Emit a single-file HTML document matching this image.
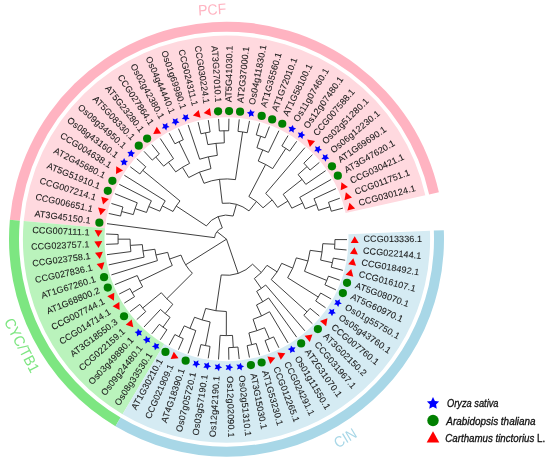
<!DOCTYPE html>
<html><head><meta charset="utf-8"><title>Phylogenetic tree</title>
<style>html,body{margin:0;padding:0;background:#fff}body{width:550px;height:463px;overflow:hidden;font-family:"Liberation Sans",sans-serif}svg{display:block;will-change:transform}text{font-family:"Liberation Sans",sans-serif}</style></head><body>
<svg width="550" height="463" viewBox="0 0 550 463">
<rect width="550" height="463" fill="#fff"/>
<path d="M425.32 195.34A203.6 203.6 0 0 0 23.71 221.1L104.98 228.35A122 122 0 0 1 345.64 212.92Z" fill="#FFD9DF"/>
<path d="M438.89 192.35A217.5 217.5 0 0 0 9.86 219.87L19.82 220.75A207.5 207.5 0 0 1 429.13 194.5Z" fill="#FFB3C1"/>
<text x="0" y="0" transform="translate(212.15 9.25) rotate(-3.57) scale(0.93 1)" text-anchor="middle" dy="0.36em" font-size="15" fill="#FFB3C1">PCF</text>
<path d="M23.71 221.1A203.6 203.6 0 0 0 122.55 414.27L164.21 344.1A122 122 0 0 1 104.98 228.35Z" fill="#BAF3BC"/>
<path d="M9.86 219.87A217.5 217.5 0 0 0 115.46 426.22L120.56 417.62A207.5 207.5 0 0 1 19.82 220.75Z" fill="#7DE681"/>
<text x="0" y="0" transform="translate(22.04 345.18) rotate(62.6) scale(0.93 1)" text-anchor="middle" dy="0.36em" font-size="15" fill="#7DE681">CYC/TB1</text>
<path d="M122.55 414.27A203.6 203.6 0 0 0 429.93 230.78L348.4 234.15A122 122 0 0 1 164.21 344.1Z" fill="#D5EBF3"/>
<path d="M115.46 426.22A217.5 217.5 0 0 0 443.81 230.21L433.82 230.62A207.5 207.5 0 0 1 120.56 417.62Z" fill="#A8D7E7"/>
<text x="0" y="0" transform="translate(345.06 437.81) rotate(-30.84) scale(0.91 1)" text-anchor="middle" dy="0.36em" font-size="15" fill="#A8D7E7">CIN</text>
<path d="M342.92 208.11L331.28 211.22M339.82 198.23L328.49 202.33M331.28 211.22A108.45 108.45 0 0 0 328.49 202.33M329.98 206.75L318.48 210.35M335.88 188.65L314.01 198.76M318.48 210.35A96.4 96.4 0 0 0 314.01 198.76M316.43 204.48L305.19 208.82M331.14 179.44L299.75 197.37M305.19 208.82A84.35 84.35 0 0 0 299.75 197.37M319.37 162.42L310.08 170.1M312.43 154.73L303.84 163.18M310.08 170.1A108.45 108.45 0 0 0 303.84 163.18M325.62 170.68L305.8 184.38M307.04 166.57L298.09 174.64M305.8 184.38A96.4 96.4 0 0 0 298.09 174.64M302.68 202.99L291.8 208.17M302.1 179.39L283.2 194.34M291.8 208.17A72.3 72.3 0 0 0 283.2 194.34M287.89 201.01L277.66 207.38M304.86 147.66L265.68 193.43M277.66 207.38A60.25 60.25 0 0 0 265.68 193.43M296.71 141.27L289.69 151.06M288.04 135.6L281.89 145.96M289.69 151.06A108.45 108.45 0 0 0 281.89 145.96M269.41 126.6L265.12 137.86M259.58 123.33L256.27 134.92M265.12 137.86A108.45 108.45 0 0 0 256.27 134.92M278.92 130.7L268.44 152.4M260.73 136.29L256.92 147.73M268.44 152.4A96.4 96.4 0 0 0 256.92 147.73M285.84 148.43L272.66 168.6M262.75 149.88L258.22 161.04M272.66 168.6A84.35 84.35 0 0 0 258.22 161.04M272.21 199.94L263.06 207.79M265.62 164.47L248.86 196.5M263.06 207.79A48.2 48.2 0 0 0 248.86 196.5M249.51 120.92L247.21 132.74M239.26 119.38L237.99 131.36M247.21 132.74A108.45 108.45 0 0 0 237.99 131.36M228.93 118.72L228.68 130.77M218.57 118.96L219.36 130.98M228.68 130.77A108.45 108.45 0 0 0 219.36 130.98M208.28 120.09L210.1 132M198.11 122.09L200.95 133.8M210.1 132A108.45 108.45 0 0 0 200.95 133.8M224.02 130.78L224.3 142.83M205.51 132.8L207.84 144.62M224.3 142.83A96.4 96.4 0 0 0 207.84 144.62M216.03 143.37L217.34 155.35M188.16 124.96L199.66 159.23M217.34 155.35A84.35 84.35 0 0 0 199.66 159.23M178.49 128.68L183.29 139.73M169.18 133.21L174.91 143.81M183.29 139.73A108.45 108.45 0 0 0 174.91 143.81M151.89 144.58L159.35 154.04M144.04 151.34L152.28 160.12M159.35 154.04A108.45 108.45 0 0 0 152.28 160.12M160.29 138.52L173.53 158.66M155.75 157.01L163.61 166.14M173.53 158.66A96.4 96.4 0 0 0 163.61 166.14M179.06 141.68L189.6 163.35M168.45 162.24L175.71 171.86M189.6 163.35A84.35 84.35 0 0 0 175.71 171.86M208.4 156.82L210.98 168.58M182.45 167.27L188.74 177.54M210.98 168.58A72.3 72.3 0 0 0 188.74 177.54M242.61 131.95L235.45 179.62M199.49 172.14L203.99 183.31M235.45 179.62A60.25 60.25 0 0 0 203.99 183.31M256.5 201.47L249 210.9M219.47 179.36L222.28 203.3M249 210.9A36.15 36.15 0 0 0 222.28 203.3M136.8 158.74L145.77 166.79M130.22 166.74L139.85 173.99M145.77 166.79A108.45 108.45 0 0 0 139.85 173.99M111.43 203.45L122.93 207.03M108.78 213.46L120.55 216.04M122.93 207.03A108.45 108.45 0 0 0 120.55 216.04M114.92 193.7L137.24 202.8M121.65 211.51L133.3 214.58M137.24 202.8A96.4 96.4 0 0 0 133.3 214.58M119.24 184.29L151.42 200.76M135.08 208.63L146.5 212.45M151.42 200.76A84.35 84.35 0 0 0 146.5 212.45M124.35 175.28L165.21 200.85M148.74 206.51L159.85 211.18M165.21 200.85A72.3 72.3 0 0 0 159.85 211.18M142.73 170.32L179.96 200.94M162.32 205.91L173.02 211.46M179.96 200.94A60.25 60.25 0 0 0 173.02 211.46M236.4 204.43L233.1 216.02M176.21 206.01L206.39 225.93M233.1 216.02A24.1 24.1 0 0 0 206.39 225.93M218.12 216.6L222.31 227.9M107.01 223.67L214.55 237.65M222.31 227.9A12.05 12.05 0 0 0 214.55 237.65M106.11 233.99L118.15 234.51M106.11 244.35L118.15 243.83M118.15 234.51A108.45 108.45 0 0 0 118.15 243.83M118.05 239.17L130.1 239.17M107 254.67L130.9 251.57M130.1 239.17A96.4 96.4 0 0 0 130.9 251.57M130.3 245.39L142.32 244.61M108.77 264.87L144.09 257.17M142.32 244.61A84.35 84.35 0 0 0 144.09 257.17M142.97 250.92L154.9 249.25M111.41 274.89L157.44 260.61M154.9 249.25A72.3 72.3 0 0 0 157.44 260.61M119.21 294.05L129.94 288.57M124.32 303.07L134.54 296.68M129.94 288.57A108.45 108.45 0 0 0 134.54 296.68M114.9 284.64L137.22 275.55M132.15 292.67L142.63 286.73M137.22 275.55A96.4 96.4 0 0 0 142.63 286.73M155.94 254.98L167.7 252.35M139.74 281.23L172.28 265.47M167.7 252.35A60.25 60.25 0 0 0 172.28 265.47M130.18 311.61L139.81 304.36M136.75 319.61L145.73 311.57M139.81 304.36A108.45 108.45 0 0 0 145.73 311.57M151.84 333.78L159.3 324.32M160.23 339.84L166.86 329.78M159.3 324.32A108.45 108.45 0 0 0 166.86 329.78M143.99 327.02L160.49 309.46M163.02 327.13L170.08 317.36M160.49 309.46A96.4 96.4 0 0 0 170.08 317.36M142.69 308.03L161.32 292.73M165.16 313.56L172.82 304.27M161.32 292.73A84.35 84.35 0 0 0 172.82 304.27M169.61 259.04L180.99 255.07M166.79 298.78L192.38 273.25M180.99 255.07A48.2 48.2 0 0 0 192.38 273.25M169.12 345.16L174.86 334.57M178.43 349.7L183.24 338.65M174.86 334.57A108.45 108.45 0 0 0 183.24 338.65M179.01 336.7L184.28 325.86M188.1 353.42L195.78 330.57M184.28 325.86A96.4 96.4 0 0 0 195.78 330.57M198.05 356.29L200.9 344.58M208.21 358.3L210.04 346.39M200.9 344.58A108.45 108.45 0 0 0 210.04 346.39M189.96 328.4L194.52 317.25M205.45 345.59L210.13 321.95M194.52 317.25A84.35 84.35 0 0 0 210.13 321.95M228.86 359.68L228.63 347.63M239.2 359.03L237.93 347.05M228.63 347.63A108.45 108.45 0 0 0 237.93 347.05M218.51 359.43L220.11 335.39M233.28 347.44L232.53 335.41M220.11 335.39A96.4 96.4 0 0 0 232.53 335.41M202.21 319.98L205.68 308.44M226.32 335.6L226.36 311.5M205.68 308.44A72.3 72.3 0 0 0 226.36 311.5M249.44 357.5L247.15 345.67M259.52 355.09L256.21 343.5M247.15 345.67A108.45 108.45 0 0 0 256.21 343.5M269.35 351.83L265.06 340.56M278.86 347.73L273.62 336.88M265.06 340.56A108.45 108.45 0 0 0 273.62 336.88M251.7 344.68L248.9 332.96M269.38 338.81L264.62 327.74M248.9 332.96A96.4 96.4 0 0 0 264.62 327.74M256.87 330.69L253.08 319.25M287.99 342.83L269.54 311.74M253.08 319.25A84.35 84.35 0 0 0 269.54 311.74M261.51 315.94L256.51 304.98M296.66 337.17L268.6 297.98M256.51 304.98A72.3 72.3 0 0 0 268.6 297.98M262.72 301.77L256.68 291.34M304.81 330.78L265.66 284.99M256.68 291.34A60.25 60.25 0 0 0 265.66 284.99M312.39 323.72L303.8 315.27M319.33 316.03L310.05 308.35M303.8 315.27A108.45 108.45 0 0 0 310.05 308.35M325.58 307.78L315.68 300.92M331.11 299.01L320.65 293.03M315.68 300.92A108.45 108.45 0 0 0 320.65 293.03M335.86 289.81L324.92 284.75M339.8 280.23L328.47 276.13M324.92 284.75A108.45 108.45 0 0 0 328.47 276.13M342.9 270.35L331.26 267.23M345.15 260.24L333.28 258.13M331.26 267.23A108.45 108.45 0 0 0 333.28 258.13M346.52 249.97L334.52 248.89M347 239.62L334.95 239.58M334.52 248.89A108.45 108.45 0 0 0 334.95 239.58M332.37 262.71L320.61 260.09M334.83 244.24L322.8 243.68M320.61 260.09A96.4 96.4 0 0 0 322.8 243.68M326.79 280.48L304.5 271.3M322.06 251.94L310.11 250.34M304.5 271.3A84.35 84.35 0 0 0 310.11 250.34M318.25 297.03L287.66 277.75M307.98 261L296.34 257.89M287.66 277.75A72.3 72.3 0 0 0 296.34 257.89M307 311.87L271.22 279.57M292.75 268.15L281.71 263.32M271.22 279.57A60.25 60.25 0 0 0 281.71 263.32M261.32 288.37L254.35 278.54M277.12 271.87L267 265.34M254.35 278.54A48.2 48.2 0 0 0 267 265.34M215.91 310.72L221.21 274.96M261.31 272.54L252.6 264.21M221.21 274.96A36.15 36.15 0 0 0 252.6 264.21M226.5 239.2L217.07 231.69M226.5 239.2L185.66 264.8M226.5 239.2L238.21 273.4" fill="none" stroke="#2a2a2a" stroke-width="0.9"/>
<polygon points="349.47,202.79 355.1,208.43 347.4,210.49" fill="#FF0000"/>
<polygon points="345.89,192.37 351.98,197.5 344.49,200.21" fill="#FF0000"/>
<polygon points="341.43,182.29 347.94,186.88 340.71,190.22" fill="#FF0000"/>
<circle cx="337.83" cy="175.63" r="4.1" fill="#008000"/>
<circle cx="331.96" cy="166.3" r="4.1" fill="#008000"/>
<polygon points="322.66,154.31 325.18,155.44 327.53,154.01 327.23,156.75 329.32,158.55 326.63,159.11 325.56,161.66 324.19,159.26 321.45,159.04 323.3,157" fill="#0000FF"/>
<polygon points="315.02,146.37 317.62,147.28 319.84,145.65 319.78,148.4 322.02,150.01 319.38,150.81 318.54,153.43 316.97,151.17 314.21,151.18 315.88,148.99" fill="#0000FF"/>
<polygon points="307.25,139.57 315.08,141.03 309.9,147.08" fill="#FF0000"/>
<polygon points="297.83,132.59 300.55,133.04 302.46,131.06 302.87,133.78 305.35,134.98 302.89,136.22 302.51,138.95 300.57,136.99 297.86,137.47 299.12,135.02" fill="#0000FF"/>
<polygon points="288.41,126.86 291.16,127.08 292.89,124.93 293.53,127.61 296.11,128.6 293.76,130.04 293.62,132.79 291.52,131.01 288.86,131.72 289.91,129.17" fill="#0000FF"/>
<circle cx="282.27" cy="123.77" r="4.1" fill="#008000"/>
<circle cx="272.15" cy="119.4" r="4.1" fill="#008000"/>
<circle cx="261.69" cy="115.93" r="4.1" fill="#008000"/>
<polygon points="246.9,112.57 249.56,111.84 250.47,109.24 251.98,111.54 254.74,111.6 253.01,113.75 253.81,116.39 251.23,115.42 248.96,116.99 249.1,114.24" fill="#0000FF"/>
<circle cx="240.08" cy="111.72" r="4.1" fill="#008000"/>
<circle cx="229.08" cy="111.03" r="4.1" fill="#008000"/>
<circle cx="218.07" cy="111.28" r="4.1" fill="#008000"/>
<polygon points="203.7,113 209.92,108.02 211.12,115.89" fill="#FF0000"/>
<polygon points="192.95,115.42 198.71,109.92 200.59,117.67" fill="#FF0000"/>
<polygon points="181.78,118.98 183.73,117.04 183.24,114.33 185.69,115.59 188.12,114.28 187.68,117 189.67,118.91 186.95,119.33 185.75,121.81 184.51,119.35" fill="#0000FF"/>
<polygon points="171.62,123.27 173.4,121.16 172.68,118.5 175.23,119.55 177.53,118.04 177.33,120.79 179.48,122.51 176.8,123.17 175.82,125.74 174.37,123.4" fill="#0000FF"/>
<polygon points="161.87,128.41 163.46,126.16 162.51,123.57 165.14,124.39 167.31,122.69 167.34,125.45 169.63,126.98 167.02,127.86 166.27,130.52 164.62,128.31" fill="#0000FF"/>
<polygon points="153.18,133.98 156.75,126.86 161.13,133.52" fill="#FF0000"/>
<circle cx="147.12" cy="138.53" r="4.1" fill="#008000"/>
<circle cx="138.77" cy="145.72" r="4.1" fill="#008000"/>
<polygon points="128.29,156.69 129.04,154.04 127.27,151.92 130.02,151.81 131.49,149.47 132.45,152.06 135.12,152.73 132.96,154.44 133.15,157.19 130.85,155.66" fill="#0000FF"/>
<polygon points="121.57,165.43 122.08,162.72 120.14,160.76 122.87,160.41 124.14,157.96 125.31,160.45 128.03,160.9 126.03,162.79 126.45,165.51 124.03,164.19" fill="#0000FF"/>
<polygon points="115.99,174.12 116.28,166.16 123.03,170.38" fill="#FF0000"/>
<circle cx="112.39" cy="180.78" r="4.1" fill="#008000"/>
<circle cx="107.79" cy="190.79" r="4.1" fill="#008000"/>
<polygon points="103.05,204.46 101.29,196.69 108.9,199.05" fill="#FF0000"/>
<polygon points="100.52,215.19 98.1,207.6 105.89,209.3" fill="#FF0000"/>
<circle cx="99.37" cy="222.68" r="4.1" fill="#008000"/>
<polygon points="98.27,237.1 94.59,230.04 102.55,230.38" fill="#FF0000"/>
<polygon points="98.56,248.12 94.29,241.4 102.25,241.06" fill="#FF0000"/>
<polygon points="99.8,259.08 94.97,252.74 102.87,251.72" fill="#FF0000"/>
<polygon points="101.98,269.88 96.62,263.99 104.4,262.29" fill="#FF0000"/>
<circle cx="104.05" cy="277.17" r="4.1" fill="#008000"/>
<circle cx="107.76" cy="287.54" r="4.1" fill="#008000"/>
<polygon points="113.92,300.63 107.24,296.3 114.33,292.67" fill="#FF0000"/>
<polygon points="119.62,310.07 112.58,306.33 119.34,302.11" fill="#FF0000"/>
<circle cx="124.02" cy="316.23" r="4.1" fill="#008000"/>
<polygon points="133.32,327.32 125.75,324.84 131.68,319.52" fill="#FF0000"/>
<polygon points="141.74,335.47 139.11,334.67 136.95,336.39 136.9,333.63 134.6,332.11 137.2,331.21 137.94,328.55 139.6,330.75 142.35,330.63 140.78,332.89" fill="#0000FF"/>
<polygon points="150.32,342.4 147.63,341.82 145.63,343.72 145.34,340.98 142.92,339.66 145.44,338.54 145.94,335.83 147.78,337.88 150.52,337.52 149.14,339.91" fill="#0000FF"/>
<polygon points="159.47,348.56 156.73,348.22 154.9,350.28 154.38,347.57 151.85,346.47 154.27,345.13 154.54,342.39 156.55,344.27 159.24,343.68 158.07,346.18" fill="#0000FF"/>
<circle cx="165.45" cy="351.93" r="4.1" fill="#008000"/>
<polygon points="178.53,358.14 170.61,359.04 173.79,351.73" fill="#FF0000"/>
<circle cx="185.65" cy="360.72" r="4.1" fill="#008000"/>
<polygon points="200.26,364.76 197.58,365.36 196.55,367.91 195.14,365.54 192.39,365.35 194.22,363.29 193.55,360.61 196.07,361.71 198.41,360.24 198.15,362.99" fill="#0000FF"/>
<polygon points="211.14,366.54 208.52,367.38 207.71,370.01 206.11,367.77 203.35,367.82 204.99,365.6 204.09,362.99 206.71,363.87 208.91,362.21 208.89,364.96" fill="#0000FF"/>
<polygon points="222.14,367.39 219.59,368.45 219.01,371.14 217.22,369.04 214.48,369.33 215.93,366.98 214.81,364.46 217.49,365.11 219.54,363.26 219.75,366.01" fill="#0000FF"/>
<polygon points="233.16,367.29 230.71,368.56 230.37,371.3 228.41,369.36 225.7,369.88 226.94,367.42 225.61,365 228.33,365.41 230.22,363.4 230.67,366.12" fill="#0000FF"/>
<polygon points="244.14,366.25 241.81,367.72 241.7,370.48 239.58,368.72 236.93,369.47 237.95,366.9 236.41,364.61 239.16,364.79 240.87,362.63 241.55,365.3" fill="#0000FF"/>
<circle cx="250.91" cy="365.06" r="4.1" fill="#008000"/>
<circle cx="261.63" cy="362.49" r="4.1" fill="#008000"/>
<polygon points="275.31,357.8 270.28,363.97 267.44,356.53" fill="#FF0000"/>
<polygon points="285.31,353.17 280.83,359.75 277.37,352.58" fill="#FF0000"/>
<polygon points="295.48,347.34 293.98,349.65 295.03,352.19 292.37,351.48 290.27,353.27 290.13,350.51 287.78,349.07 290.36,348.08 291,345.41 292.74,347.55" fill="#0000FF"/>
<circle cx="301.14" cy="343.43" r="4.1" fill="#008000"/>
<polygon points="312.44,334.39 309.78,341.9 304.61,335.85" fill="#FF0000"/>
<circle cx="317.88" cy="329.12" r="4.1" fill="#008000"/>
<polygon points="327.46,318.28 326.13,326.14 319.99,321.06" fill="#FF0000"/>
<polygon points="334.28,308.74 333.87,311.47 335.89,313.35 333.17,313.81 332.01,316.31 330.73,313.86 328,313.53 329.93,311.56 329.4,308.86 331.87,310.08" fill="#0000FF"/>
<polygon points="339.85,299.23 339.68,301.98 341.85,303.68 339.19,304.37 338.24,306.96 336.76,304.64 334.01,304.54 335.76,302.41 335,299.76 337.57,300.77" fill="#0000FF"/>
<circle cx="342.85" cy="293.04" r="4.1" fill="#008000"/>
<circle cx="347.04" cy="282.85" r="4.1" fill="#008000"/>
<polygon points="351.23,269.01 353.3,276.7 345.6,274.64" fill="#FF0000"/>
<polygon points="353.33,258.19 356.05,265.67 348.21,264.28" fill="#FF0000"/>
<polygon points="354.5,247.22 357.85,254.45 349.91,253.74" fill="#FF0000"/>
<polygon points="354.71,236.2 358.67,243.12 350.7,243.09" fill="#FF0000"/>
<g font-size="9" fill="#1a1a1a" stroke="#1a1a1a" stroke-width="0.08">
<text transform="translate(358.86 203.86) rotate(-14.95)" text-anchor="start" dy="0.24em" letter-spacing="0.1">CCG030124.1</text>
<text transform="translate(355.34 192.62) rotate(-19.88)" text-anchor="start" dy="0.24em" letter-spacing="0.1">CCG011751.1</text>
<text transform="translate(350.86 181.73) rotate(-24.8)" text-anchor="start" dy="0.24em" letter-spacing="0.1">CCG030421.1</text>
<text transform="translate(345.47 171.26) rotate(-29.73)" text-anchor="start" dy="0.24em" letter-spacing="0.12">AT3G47620.1</text>
<text transform="translate(339.19 161.3) rotate(-34.66)" text-anchor="start" dy="0.24em" letter-spacing="0.12">AT1G69690.1</text>
<text transform="translate(332.09 151.91) rotate(-39.58)" text-anchor="start" dy="0.24em" letter-spacing="0.2">Os06g12230.1</text>
<text transform="translate(324.2 143.16) rotate(-44.51)" text-anchor="start" dy="0.24em" letter-spacing="0.2">Os02g51280.1</text>
<text transform="translate(315.59 135.13) rotate(-49.43)" text-anchor="start" dy="0.24em" letter-spacing="0.1">CCG007588.1</text>
<text transform="translate(306.33 127.86) rotate(-54.36)" text-anchor="start" dy="0.24em" letter-spacing="0.2">Os12g07480.1</text>
<text transform="translate(296.47 121.42) rotate(-59.29)" text-anchor="start" dy="0.24em" letter-spacing="0.2">Os11g07460.1</text>
<text transform="translate(286.1 115.84) rotate(-64.21)" text-anchor="start" dy="0.24em" letter-spacing="0.12">AT1G58100.1</text>
<text transform="translate(275.28 111.18) rotate(-69.14)" text-anchor="start" dy="0.24em" letter-spacing="0.12">AT1G72010.1</text>
<text transform="translate(264.11 107.46) rotate(-74.07)" text-anchor="start" dy="0.24em" letter-spacing="0.12">AT1G35560.1</text>
<text transform="translate(252.66 104.72) rotate(-78.99)" text-anchor="start" dy="0.24em" letter-spacing="0.2">Os04g11830.1</text>
<text transform="translate(241.01 102.97) rotate(-83.92)" text-anchor="start" dy="0.24em" letter-spacing="0.12">AT2G37000.1</text>
<text transform="translate(229.26 102.23) rotate(-88.85)" text-anchor="start" dy="0.24em" letter-spacing="0.12">AT5G41030.1</text>
<text transform="translate(217.49 102.5) rotate(86.23)" text-anchor="end" dy="0.24em" letter-spacing="0.12">AT3G27010.1</text>
<text transform="translate(205.78 103.78) rotate(81.3)" text-anchor="end" dy="0.24em" letter-spacing="0.1">CCG030224.1</text>
<text transform="translate(194.23 106.06) rotate(76.37)" text-anchor="end" dy="0.24em" letter-spacing="0.1">CCG024311.1</text>
<text transform="translate(182.91 109.32) rotate(71.45)" text-anchor="end" dy="0.24em" letter-spacing="0.2">Os01g69980.1</text>
<text transform="translate(171.92 113.54) rotate(66.52)" text-anchor="end" dy="0.24em" letter-spacing="0.2">Os04g44440.1</text>
<text transform="translate(161.33 118.69) rotate(61.6)" text-anchor="end" dy="0.24em" letter-spacing="0.2">Os02g42380.1</text>
<text transform="translate(151.22 124.73) rotate(56.67)" text-anchor="end" dy="0.24em" letter-spacing="0.1">CCG027864.1</text>
<text transform="translate(141.67 131.62) rotate(51.74)" text-anchor="end" dy="0.24em" letter-spacing="0.12">AT5G23280.1</text>
<text transform="translate(132.75 139.3) rotate(46.82)" text-anchor="end" dy="0.24em" letter-spacing="0.12">AT5G08330.1</text>
<text transform="translate(124.51 147.72) rotate(41.89)" text-anchor="end" dy="0.24em" letter-spacing="0.2">Os09g34950.1</text>
<text transform="translate(117.03 156.82) rotate(36.96)" text-anchor="end" dy="0.24em" letter-spacing="0.2">Os08g43160.1</text>
<text transform="translate(110.36 166.53) rotate(32.04)" text-anchor="end" dy="0.24em" letter-spacing="0.1">CCG004638.1</text>
<text transform="translate(104.55 176.77) rotate(27.11)" text-anchor="end" dy="0.24em" letter-spacing="0.12">AT2G45680.1</text>
<text transform="translate(99.64 187.47) rotate(22.18)" text-anchor="end" dy="0.24em" letter-spacing="0.12">AT5G51910.1</text>
<text transform="translate(95.67 198.56) rotate(17.26)" text-anchor="end" dy="0.24em" letter-spacing="0.1">CCG007214.1</text>
<text transform="translate(92.66 209.94) rotate(12.33)" text-anchor="end" dy="0.24em" letter-spacing="0.1">CCG006651.1</text>
<text transform="translate(90.64 221.54) rotate(7.41)" text-anchor="end" dy="0.24em" letter-spacing="0.12">AT3G45150.1</text>
<text transform="translate(89.63 233.27) rotate(2.48)" text-anchor="end" dy="0.24em" letter-spacing="0.1">CCG007111.1</text>
<text transform="translate(89.62 245.05) rotate(-2.45)" text-anchor="end" dy="0.24em" letter-spacing="0.1">CCG023757.1</text>
<text transform="translate(90.63 256.78) rotate(-7.37)" text-anchor="end" dy="0.24em" letter-spacing="0.1">CCG023758.1</text>
<text transform="translate(92.64 268.39) rotate(-12.3)" text-anchor="end" dy="0.24em" letter-spacing="0.1">CCG027836.1</text>
<text transform="translate(95.65 279.77) rotate(-17.23)" text-anchor="end" dy="0.24em" letter-spacing="0.12">AT1G67260.1</text>
<text transform="translate(99.61 290.86) rotate(-22.15)" text-anchor="end" dy="0.24em" letter-spacing="0.12">AT1G68800.2</text>
<text transform="translate(104.52 301.57) rotate(-27.08)" text-anchor="end" dy="0.24em" letter-spacing="0.1">CCG007744.1</text>
<text transform="translate(110.33 311.81) rotate(-32.01)" text-anchor="end" dy="0.24em" letter-spacing="0.1">CCG014714.1</text>
<text transform="translate(116.99 321.52) rotate(-36.93)" text-anchor="end" dy="0.24em" letter-spacing="0.12">AT3G18550.3</text>
<text transform="translate(124.46 330.62) rotate(-41.86)" text-anchor="end" dy="0.24em" letter-spacing="0.1">CCG022159.1</text>
<text transform="translate(132.69 339.04) rotate(-46.79)" text-anchor="end" dy="0.24em" letter-spacing="0.2">Os03g49880.1</text>
<text transform="translate(141.61 346.73) rotate(-51.71)" text-anchor="end" dy="0.24em" letter-spacing="0.2">Os09g24480.1</text>
<text transform="translate(151.16 353.62) rotate(-56.64)" text-anchor="end" dy="0.24em" letter-spacing="0.2">Os08g33530.1</text>
<text transform="translate(161.26 359.67) rotate(-61.56)" text-anchor="end" dy="0.24em" letter-spacing="0.12">AT1G30210.1</text>
<text transform="translate(171.85 364.83) rotate(-66.49)" text-anchor="end" dy="0.24em" letter-spacing="0.1">CCG021909.1</text>
<text transform="translate(182.84 369.06) rotate(-71.42)" text-anchor="end" dy="0.24em" letter-spacing="0.12">AT4G18390.1</text>
<text transform="translate(194.15 372.33) rotate(-76.34)" text-anchor="end" dy="0.24em" letter-spacing="0.2">Os07g05720.1</text>
<text transform="translate(205.71 374.61) rotate(-81.27)" text-anchor="end" dy="0.24em" letter-spacing="0.2">Os03g57190.1</text>
<text transform="translate(217.41 375.9) rotate(-86.2)" text-anchor="end" dy="0.24em" letter-spacing="0.2">Os12g42190.1</text>
<text transform="translate(229.18 376.17) rotate(-271.12)" text-anchor="start" dy="0.24em" letter-spacing="0.2">Os12g02090.1</text>
<text transform="translate(240.94 375.44) rotate(-276.05)" text-anchor="start" dy="0.24em" letter-spacing="0.2">Os02g51310.1</text>
<text transform="translate(252.58 373.69) rotate(-280.98)" text-anchor="start" dy="0.24em" letter-spacing="0.12">AT3G15030.1</text>
<text transform="translate(264.04 370.96) rotate(-285.9)" text-anchor="start" dy="0.24em" letter-spacing="0.12">AT1G53230.1</text>
<text transform="translate(275.21 367.25) rotate(-290.83)" text-anchor="start" dy="0.24em" letter-spacing="0.1">CCG012265.1</text>
<text transform="translate(286.03 362.59) rotate(-295.75)" text-anchor="start" dy="0.24em" letter-spacing="0.1">CCG024291.1</text>
<text transform="translate(296.41 357.02) rotate(-300.68)" text-anchor="start" dy="0.24em" letter-spacing="0.2">Os01g11550.1</text>
<text transform="translate(306.27 350.58) rotate(-305.61)" text-anchor="start" dy="0.24em" letter-spacing="0.12">AT2G31070.1</text>
<text transform="translate(315.54 343.32) rotate(-310.53)" text-anchor="start" dy="0.24em" letter-spacing="0.1">CCG031967.1</text>
<text transform="translate(324.15 335.29) rotate(-315.46)" text-anchor="start" dy="0.24em" letter-spacing="0.12">AT3G02150.2</text>
<text transform="translate(332.04 326.55) rotate(-320.39)" text-anchor="start" dy="0.24em" letter-spacing="0.1">CCG007760.1</text>
<text transform="translate(339.15 317.17) rotate(-325.31)" text-anchor="start" dy="0.24em" letter-spacing="0.2">Os05g43760.1</text>
<text transform="translate(345.43 307.2) rotate(-330.24)" text-anchor="start" dy="0.24em" letter-spacing="0.2">Os01g55750.1</text>
<text transform="translate(350.83 296.74) rotate(-335.17)" text-anchor="start" dy="0.24em" letter-spacing="0.12">AT5G60970.1</text>
<text transform="translate(355.31 285.85) rotate(-340.09)" text-anchor="start" dy="0.24em" letter-spacing="0.12">AT5G08070.1</text>
<text transform="translate(358.84 274.61) rotate(-345.02)" text-anchor="start" dy="0.24em" letter-spacing="0.1">CCG016107.1</text>
<text transform="translate(361.4 263.12) rotate(-349.95)" text-anchor="start" dy="0.24em" letter-spacing="0.1">CCG018492.1</text>
<text transform="translate(362.95 251.45) rotate(-354.87)" text-anchor="start" dy="0.24em" letter-spacing="0.1">CCG022144.1</text>
<text transform="translate(363.5 239.68) rotate(-359.8)" text-anchor="start" dy="0.24em" letter-spacing="0.1">CCG013336.1</text>
</g>
<polygon points="433,397.1 434.88,400.91 439.09,401.52 436.04,404.49 436.76,408.68 433,406.7 429.24,408.68 429.96,404.49 426.91,401.52 431.12,400.91" fill="#0000FF"/>
<circle cx="433" cy="420.5" r="5.7" fill="#008000"/>
<polygon points="433,431.3 439.3,442.6 426.7,442.6" fill="#FF0000"/>
<text x="447" y="407" font-size="10" font-style="italic" fill="#111" stroke="#111" stroke-width="0.3" textLength="51.5" lengthAdjust="spacingAndGlyphs">Oryza sativa</text>
<text x="446.3" y="424.6" font-size="10" font-style="italic" fill="#111" stroke="#111" stroke-width="0.3" textLength="89.3" lengthAdjust="spacingAndGlyphs">Arabidopsis thaliana</text>
<text x="445.3" y="442.3" font-size="10" fill="#111" stroke="#111" stroke-width="0.3" textLength="99.8" lengthAdjust="spacingAndGlyphs"><tspan font-style="italic">Carthamus tinctorius</tspan> L.</text>
</svg></body></html>
